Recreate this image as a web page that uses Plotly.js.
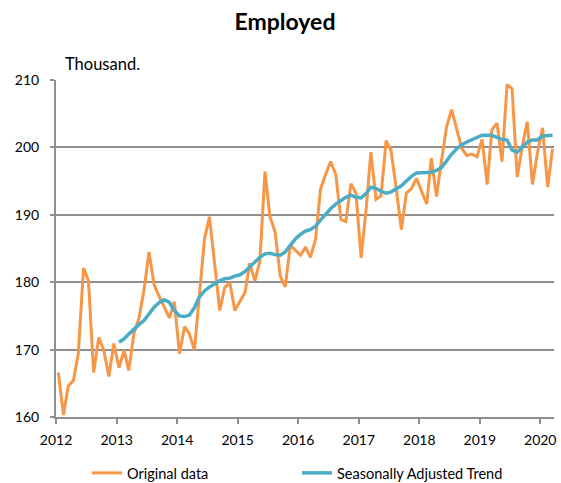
<!DOCTYPE html>
<html>
<head>
<meta charset="utf-8">
<script src="https://cdn.plot.ly/plotly-3.0.1.min.js"></script>
<style>html,body{margin:0;padding:0;background:#fff;}#chart{width:561px;height:483px;}</style>
</head>
<body>
<div id="chart"></div>
<script>
// Monthly series, Jan 2012 .. Mar 2020
var startYear = 2012;
var monthCount = 99;
var trendStartIndex = 12; // trend begins Jan 2013

var original2012 = [166.6, 160.3, 164.6, 165.4, 169.5, 182.1, 180.2, 166.6, 171.8, 169.9, 166.0, 170.9];
var original2013 = [167.3, 169.9, 166.9, 172.4, 174.6, 178.8, 184.5, 179.6, 177.9, 176.4, 174.7, 177.1];
var original2014 = [169.4, 173.4, 172.4, 169.9, 178.0, 186.4, 189.7, 182.5, 175.8, 179.2, 179.9, 175.8];
var original2015 = [177.1, 178.5, 182.8, 180.2, 183.1, 196.4, 189.7, 187.5, 180.9, 179.3, 185.5, 184.8];
var original2016 = [184.0, 185.2, 183.7, 186.3, 193.8, 196.0, 197.9, 196.0, 189.3, 189.0, 194.6, 193.2];
var original2017 = [183.6, 191.0, 199.3, 192.3, 192.8, 201.0, 199.5, 193.9, 187.8, 193.2, 193.9, 195.4];
var original2018 = [193.4, 191.6, 198.4, 192.7, 198.0, 203.1, 205.6, 202.5, 199.8, 198.8, 199.0, 198.6];
var original2019 = [201.2, 194.5, 202.6, 203.6, 197.9, 209.3, 208.7, 195.6, 200.2, 203.8, 194.5, 199.2];
var original2020 = [202.9, 194.1, 199.8];

var trend2013 = [171.1, 171.6, 172.3, 173.1, 173.7, 174.3, 175.3, 176.3, 177.0, 177.4, 177.0, 175.8];
var trend2014 = [175.0, 174.9, 175.1, 176.2, 177.8, 178.7, 179.3, 179.8, 180.2, 180.5, 180.6, 180.9];
var trend2015 = [181.1, 181.6, 182.3, 183.0, 183.7, 184.2, 184.3, 184.1, 184.0, 184.5, 185.5, 186.4];
var trend2016 = [187.1, 187.6, 187.8, 188.3, 189.2, 190.1, 190.9, 191.6, 192.1, 192.6, 192.9, 192.6];
var trend2017 = [192.5, 193.2, 194.1, 193.9, 193.5, 193.2, 193.4, 193.8, 194.3, 195.0, 195.7, 196.2];
var trend2018 = [196.2, 196.2, 196.3, 196.6, 197.0, 198.0, 199.0, 199.8, 200.4, 200.8, 201.1, 201.5];
var trend2019 = [201.8, 201.8, 201.8, 201.5, 201.2, 201.1, 199.6, 199.3, 200.0, 200.8, 201.1, 201.1];
var trend2020 = [201.7, 201.8, 201.8];

var tickYears = ['2012','2013','2014','2015','2016','2017','2018','2019','2020'];
var seriesNames = ['Original data', 'Seasonally Adjusted Trend'];
var titleText = 'Employed';
var unitText = 'Thousand.';

var originalValues = [].concat(original2012, original2013, original2014, original2015,
  original2016, original2017, original2018, original2019, original2020);
var trendValues = [].concat(trend2013, trend2014, trend2015, trend2016,
  trend2017, trend2018, trend2019, trend2020);

function pad(n){ return (n < 10 ? '0' : '') + n; }
var months = [];
for (var i = 0; i < monthCount; i++) {
  var y = startYear + Math.floor(i / 12);
  var m = (i % 12) + 1;
  months.push(y + '-' + pad(m) + '-15');
}
var trendMonths = months.slice(trendStartIndex);

var FONT = 'Lato, "Open Sans", sans-serif';
var GRID = '#8f8f8f';

var traces = [
  {x: months, y: originalValues, type: 'scatter', mode: 'lines', name: seriesNames[0],
   line: {color: '#F79646', width: 3}},
  {x: trendMonths, y: trendValues, type: 'scatter', mode: 'lines', name: seriesNames[1],
   line: {color: '#4BACC6', width: 3.5}}
];

var layout = {
  width: 561, height: 483,
  margin: {l: 56, r: 7, t: 80, b: 66, autoexpand: false},
  paper_bgcolor: '#fff', plot_bgcolor: '#fff',
  font: {family: FONT, size: 14, color: '#000'},
  title: {text: '<b>' + titleText + '</b>', x: 285/561, xref: 'container', xanchor: 'center',
          y: 1 - 22/483, yref: 'container', yanchor: 'middle',
          font: {family: FONT, size: 23, color: '#000'}},
  xaxis: {
    type: 'date', range: ['2012-01-01', '2020-03-24'],
    tickvals: tickYears.map(function(t){ return t + '-01-01'; }),
    ticktext: tickYears,
    showgrid: false, zeroline: false,
    showline: true, linecolor: GRID, linewidth: 2,
    ticks: 'outside', ticklen: 5, tickwidth: 2, tickcolor: GRID,
    ticklabelstandoff: 4,
    tickfont: {family: FONT, size: 14, color: '#000'},
    fixedrange: true
  },
  yaxis: {
    range: [160, 210], dtick: 10, tick0: 160,
    showgrid: true, gridcolor: GRID, gridwidth: 2,
    zeroline: false, showline: true, linecolor: GRID, linewidth: 2,
    ticks: 'outside', ticklen: 4, tickwidth: 2, tickcolor: GRID,
    ticklabelstandoff: 8,
    tickfont: {family: FONT, size: 14, color: '#000'},
    fixedrange: true
  },
  showlegend: true,
  legend: {orientation: 'h', x: (87 - 56) / 498, xanchor: 'left', y: -0.166, yanchor: 'middle',
           font: {family: FONT, size: 14.5, color: '#000'},
           entrywidth: 165, entrywidthmode: 'pixels', bgcolor: 'rgba(0,0,0,0)'},
  annotations: [
    {text: unitText, xref: 'paper', yref: 'paper', x: (63 - 56) / 498, y: (417 - 64) / 337,
     xanchor: 'left', yanchor: 'middle', showarrow: false,
     font: {family: FONT, size: 16.5, color: '#000'}}
  ]
};

Plotly.newPlot('chart', traces, layout, {displayModeBar: false, staticPlot: true});
</script>
</body>
</html>
